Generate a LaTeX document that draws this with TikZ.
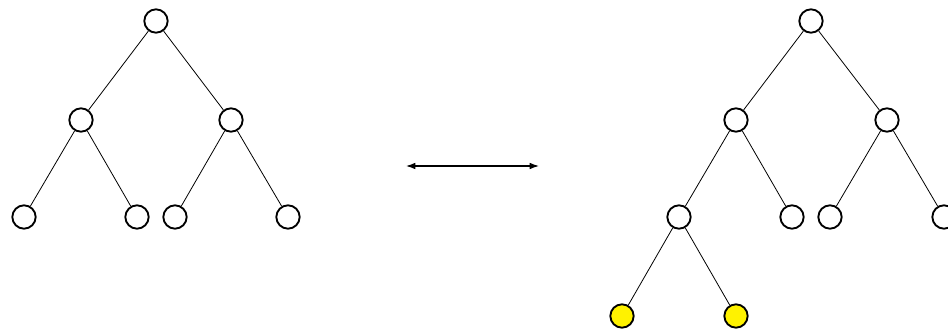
\documentclass[tikz,border=0pt]{standalone}
\usepackage{xcolor}
\usepackage{tikz}
\usetikzlibrary{arrows.meta}
\definecolor{trLeaf}{HTML}{FFF200}

\begin{document}
\begin{tikzpicture}[x=0.75pt,y=-0.75pt,
  vx/.style={circle,draw=black,line width=1.4pt,fill=white,
    minimum size=17.5pt,inner sep=0pt},
  newvx/.style={vx,fill=trLeaf},
  ed/.style={draw=black,line width=0.6pt},
  ar/.style={{Latex[length=7pt,width=5pt]}-{Latex[length=7pt,width=5pt]},line width=0.9pt}
]
\useasboundingbox (0,0) rectangle (948,331);
% tree before
\node[vx] (r)  at (156,21) {};
\node[vx] (l)  at (81,120) {};
\node[vx] (rr) at (231,120) {};
\node[vx] (ll) at (24,217) {};
\node[vx] (lr) at (137,217) {};
\node[vx] (rl) at (175,217) {};
\node[vx] (rx) at (288,217) {};
\draw[ed] (r)--(l); \draw[ed] (r)--(rr);
\draw[ed] (l)--(ll); \draw[ed] (l)--(lr);
\draw[ed] (rr)--(rl); \draw[ed] (rr)--(rx);
% tree after
\node[vx] (r2)  at (811,21) {};
\node[vx] (l2)  at (736,120) {};
\node[vx] (rr2) at (887,120) {};
\node[vx] (ll2) at (679,217) {};
\node[vx] (lr2) at (792,217) {};
\node[vx] (rl2) at (830,217) {};
\node[vx] (rx2) at (944,217) {};
\node[newvx] (a2) at (622,316) {};
\node[newvx] (b2) at (736,316) {};
\draw[ed] (r2)--(l2); \draw[ed] (r2)--(rr2);
\draw[ed] (l2)--(ll2); \draw[ed] (l2)--(lr2);
\draw[ed] (rr2)--(rl2); \draw[ed] (rr2)--(rx2);
\draw[ed] (ll2)--(a2); \draw[ed] (ll2)--(b2);
% between
\coordinate (p) at (406,166);
\coordinate (q) at (539,166);
\draw[ar] (p)--(q);
\end{tikzpicture}
\end{document}
